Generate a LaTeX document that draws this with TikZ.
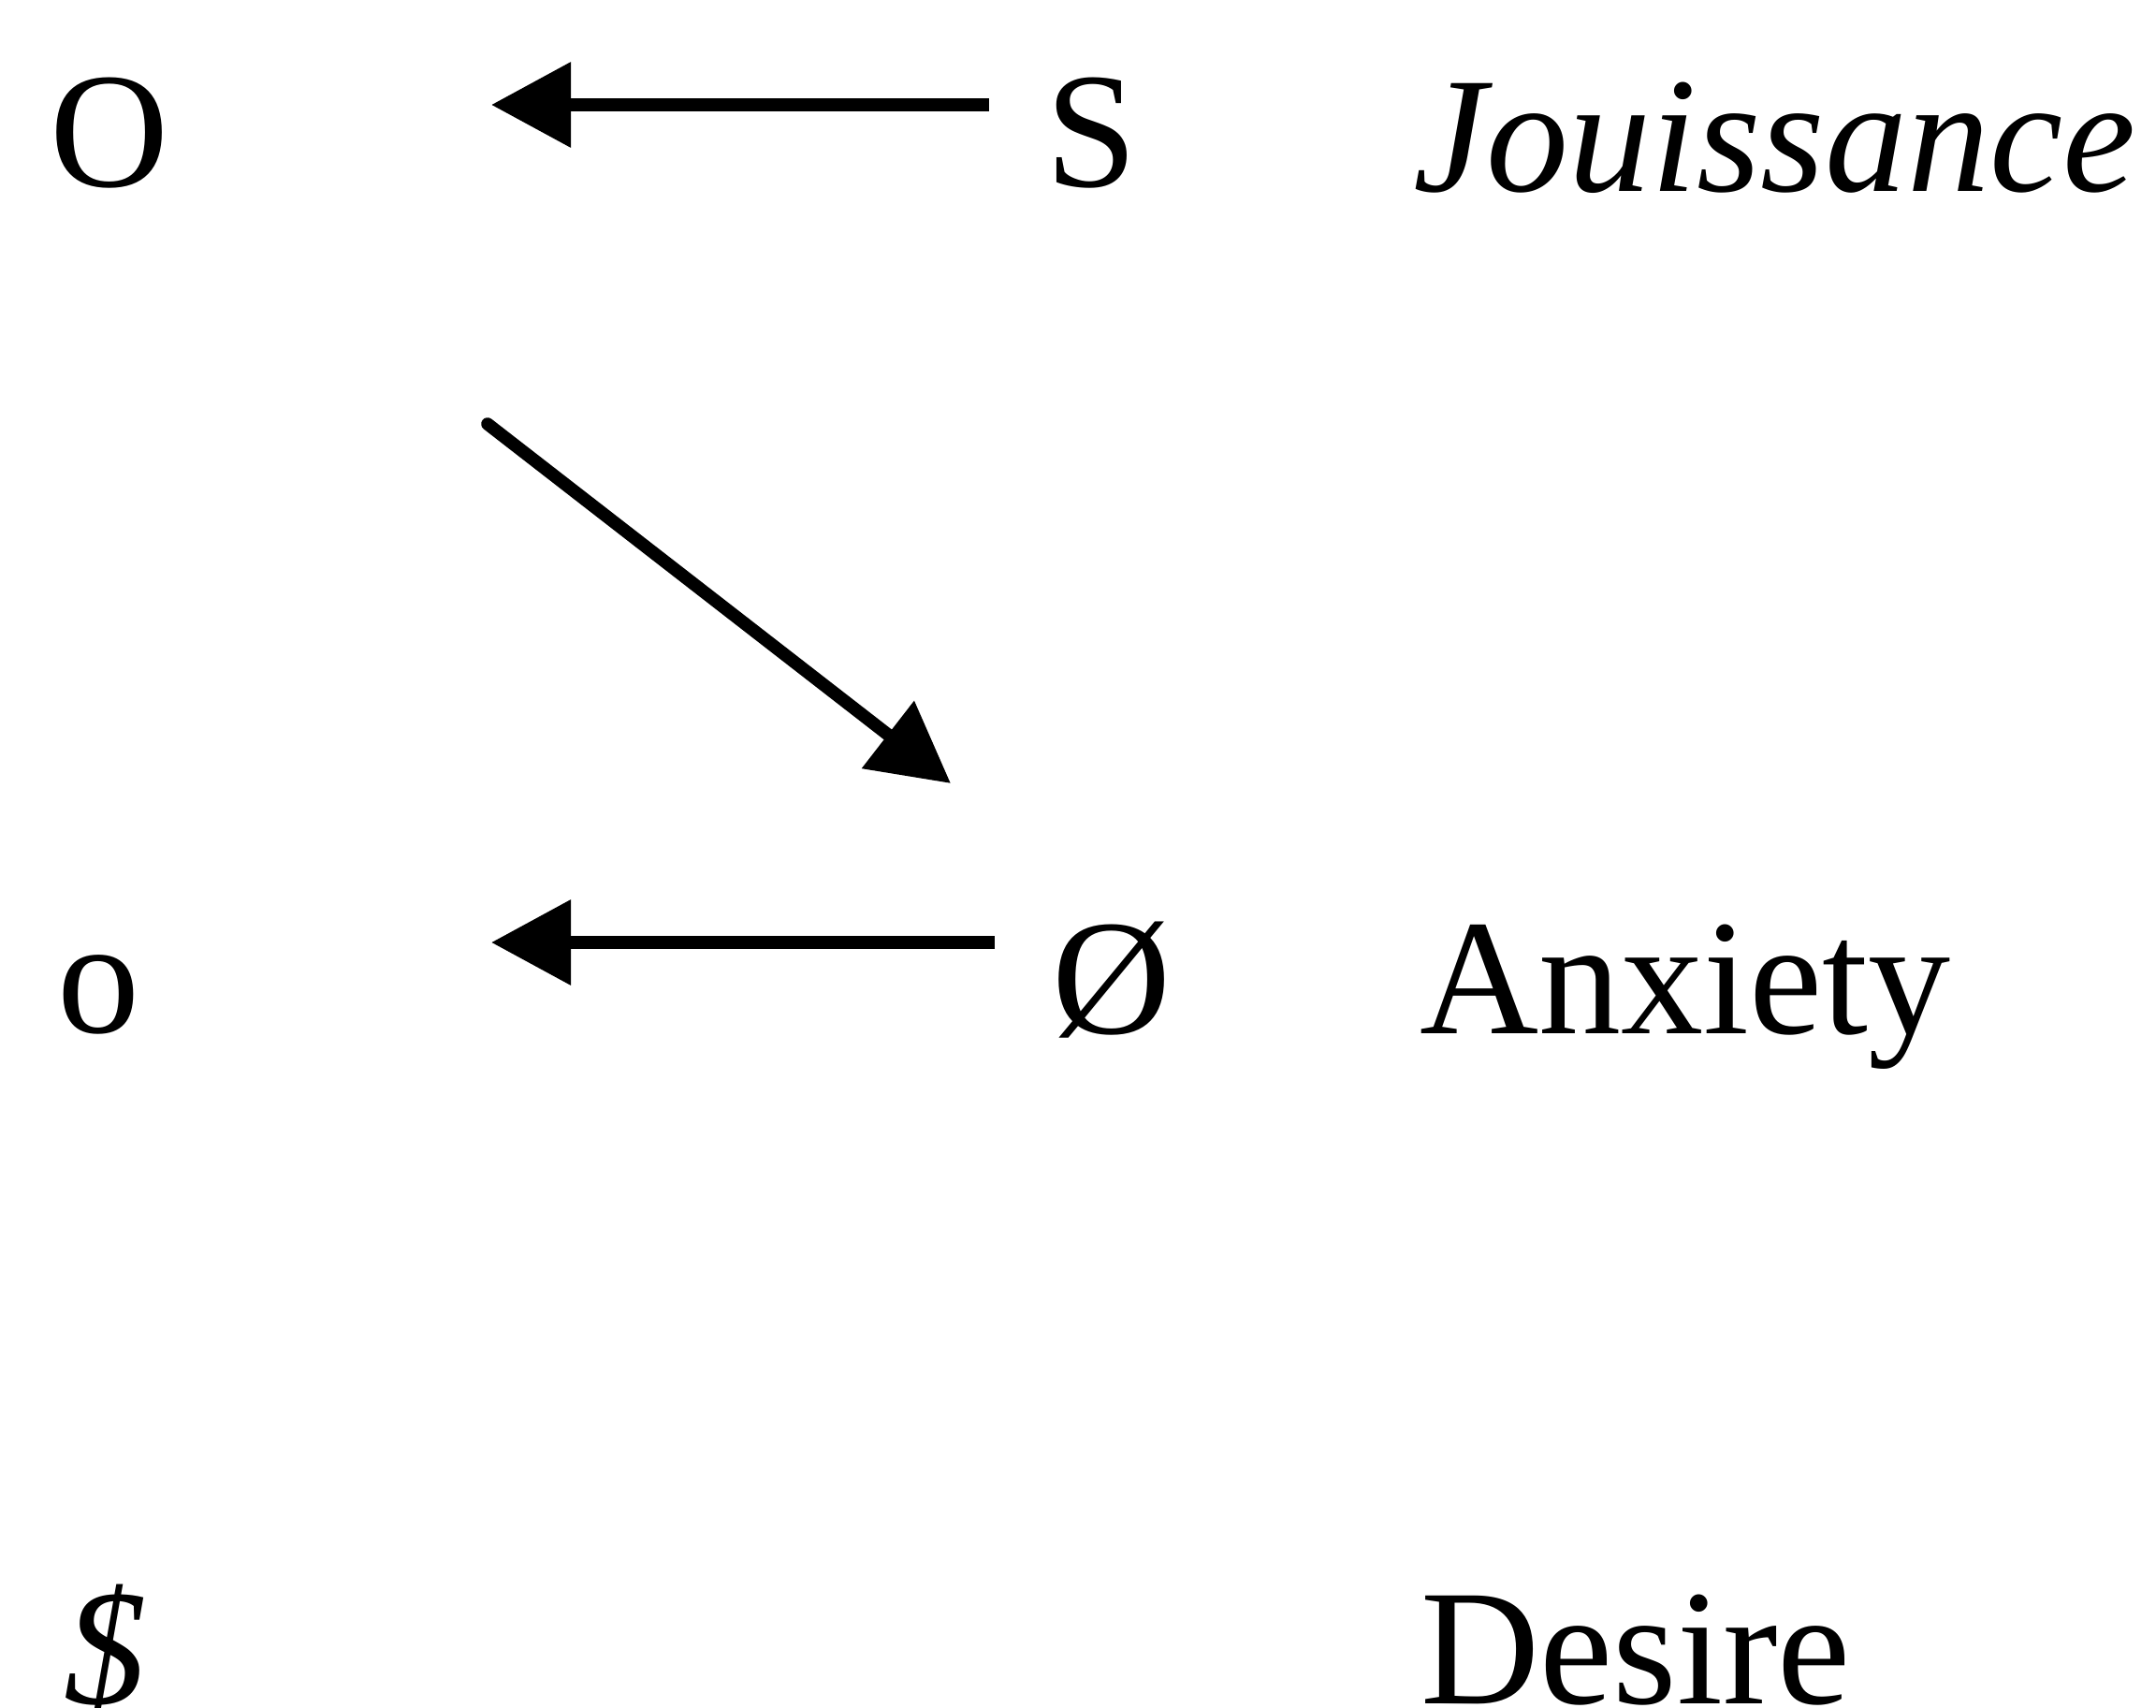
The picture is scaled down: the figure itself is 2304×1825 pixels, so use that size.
\documentclass[tikz,border=0pt]{standalone}
\usepackage{fontspec}
\setmainfont{Liberation Serif}
\usetikzlibrary{arrows.meta}
\begin{document}
\begin{tikzpicture}[x=0.5pt,y=-0.5pt,
  lbl/.style={anchor=base west, inner sep=0pt, font=\fontsize{88}{100}\selectfont},
  arr/.style={line width=6.8pt, -{Triangle[length=42.5pt,width=44pt]}}]
\useasboundingbox (0,0) rectangle (2304,1825);
% row 1
\node[lbl] (O) at (53,199) {O};
\node[lbl] (S) at (1117,199) {S};
\node[lbl] (J) at (1510,205) {\itshape Jouissance};
% row 2
\node[lbl] (o) at (61,1103) {o};
\node[lbl] (Oslash) at (1124,1104) {Ø};
\node[lbl] (Anx) at (1517,1104) {Anxiety};
% row 3
\node[lbl] (barS) at (68,1820) {\itshape \$};
\node[lbl] (Des) at (1518,1820) {Desire};
% arrow end points
\coordinate (a1s) at (1057,112);
\coordinate (a1e) at (525,112);
\coordinate (a2s) at (1063,1007);
\coordinate (a2e) at (525,1007);
\coordinate (d1s) at (521,453);
\coordinate (d1e) at (1016,837);
\draw[arr] (a1s) -- (a1e);
\draw[arr] (a2s) -- (a2e);
\draw[arr, line cap=round] (d1s) -- (d1e);
\end{tikzpicture}
\end{document}
